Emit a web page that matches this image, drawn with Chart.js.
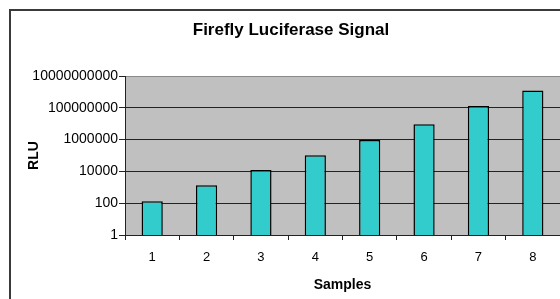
<!DOCTYPE html>
<html>
<head>
<meta charset="utf-8">
<script src="https://cdn.jsdelivr.net/npm/chart.js@4/dist/chart.umd.min.js"></script>
<style>
    html, body { margin: 0; padding: 0; overflow: hidden; background: #fff; }
    #wrap { position: absolute; left: 0; top: 0; width: 582px; height: 299px; }
    #frame { position: absolute; left: 9px; top: 9px; width: 620px; height: 400px; border: 2px solid #3a3a3a; pointer-events: none; }
</style>
</head>
<body>
<div id="wrap"><canvas id="chart" width="582" height="299"></canvas></div>
<div id="frame"></div>
<script>
const samples = ["1", "2", "3", "4", "5", "6", "7", "8"];
const rluValues = [135, 1340, 12300, 102000, 940000, 9100000, 130000000, 1230000000];
const yTicks = [1, 100, 10000, 1000000, 100000000, 10000000000];

const FONT = "'Liberation Sans', Arial, sans-serif";

const plotBackground = {
    id: "plotBackground",
    beforeDraw(chart) {
        const { ctx, chartArea } = chart;
        ctx.save();
        ctx.fillStyle = "#c0c0c0";
        ctx.fillRect(chartArea.left, chartArea.top, chartArea.right - chartArea.left, chartArea.bottom - chartArea.top);
        ctx.restore();
    }
};

new Chart(document.getElementById("chart"), {
    type: "bar",
    data: {
        labels: samples,
        datasets: [{
            label: "RLU",
            data: rluValues,
            backgroundColor: "#33cccc",
            borderColor: "#000",
            borderWidth: 1.5,
            barPercentage: 0.39,
            categoryPercentage: 1
        }]
    },
    options: {
        responsive: false,
        animation: false,
        layout: { padding: 0 },
        plugins: {
            legend: { display: false },
            tooltip: { enabled: false },
            title: {
                display: true,
                text: "Firefly Luciferase Signal",
                color: "#000",
                font: { family: FONT, size: 17, weight: "bold" },
                padding: { top: 20, bottom: 35.6 }
            }
        },
        scales: {
            x: {
                grid: { drawOnChartArea: false, drawTicks: true, tickLength: 5, tickColor: "#222", offset: true },
                border: { display: true, color: "#222", width: 1 },
                ticks: { color: "#000", font: { family: FONT, size: 13 }, padding: 10, maxRotation: 0 },
                title: {
                    display: true,
                    text: "Samples",
                    color: "#000",
                    font: { family: FONT, size: 14, weight: "bold" },
                    padding: { top: 0, bottom: 5 }
                },
                afterFit(scale) { scale.height = 64; }
            },
            y: {
                type: "logarithmic",
                min: 1,
                max: 10000000000,
                afterBuildTicks(scale) {
                    scale.ticks = yTicks.map(v => ({ value: v }));
                },
                grid: {
                    color: ctx => (ctx.tick && ctx.tick.value === 10000000000) ? "#8a8a8a" : "#222",
                    tickColor: "#222",
                    tickLength: 6,
                    lineWidth: 1
                },
                border: { display: true, color: "#222", width: 1 },
                ticks: {
                    color: "#000",
                    font: { family: FONT, size: 14 },
                    padding: 1,
                    callback: value => Number(value).toFixed(0)
                },
                title: {
                    display: true,
                    text: "RLU",
                    color: "#000",
                    font: { family: FONT, size: 14, weight: "bold" },
                    padding: { top: 26, bottom: 0 }
                },
                afterFit(scale) { scale.width = 125; }
            },
            // empty strip on the right so the plot stops at the window edge
            yRight: {
                position: "right",
                display: true,
                grid: { display: false },
                border: { display: false },
                ticks: { display: false },
                afterFit(scale) { scale.width = 22; }
            }
        }
    },
    plugins: [plotBackground]
});
</script>
</body>
</html>
